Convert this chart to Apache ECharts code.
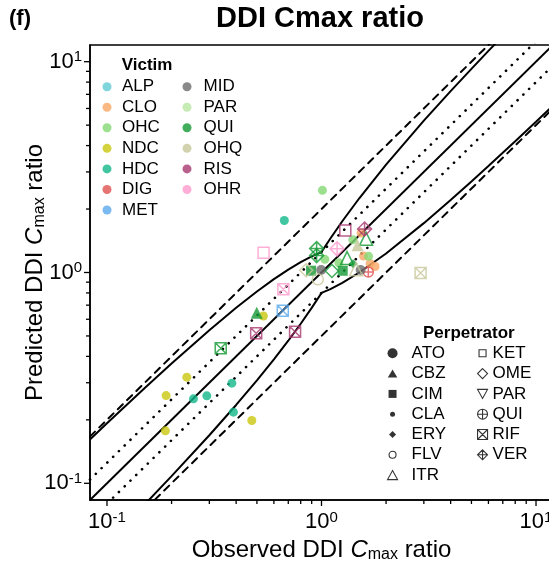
<!doctype html>
<html>
<head>
<meta charset="utf-8">
<title>DDI Cmax ratio</title>
<script src="https://cdn.jsdelivr.net/npm/echarts@6/dist/echarts.min.js"></script>
<style>
	html, body { margin: 0; padding: 0; background: #fff; }
	#chart { width: 549px; height: 561px; }
</style>
</head>
<body>
<div id="chart"></div>
<script>
var FONT = '"Liberation Sans", Arial, sans-serif';

// both axes run from 1/12 to 12
var axisMin = 1 / 12, axisMax = 12;
var majorTicks = [0.1, 1, 10];
var minorTicks = [0.2, 0.3, 0.4, 0.5, 0.6, 0.7, 0.8, 0.9, 2, 3, 4, 5, 6, 7, 8, 9];

var victims = ['ALP', 'CLO', 'OHC', 'NDC', 'HDC', 'DIG', 'MET', 'MID', 'PAR', 'QUI', 'OHQ', 'RIS', 'OHR'];
var perpetrators = ['ATO', 'CBZ', 'CIM', 'CLA', 'ERY', 'FLV', 'ITR', 'KET', 'OME', 'PAR', 'QUI', 'RIF', 'VER'];

// [observed, predicted, perpetrator]
var ALP = [];
var CLO = [[1.53, 1.54, 'CLA'], [1.571, 1.197, 'CLA'], [1.685, 1.103, 'CLA'], [1.778, 1.068, 'CLA']];
var OHC = [[1.01, 2.453, 'CLA'], [1.40, 1.43, 'CLA'], [1.037, 1.155, 'CLA'], [1.658, 1.193, 'CLA'], [1.205, 1.113, 'CLA']];
var NDC = [[0.536, 0.622, 'CLA'], [0.2355, 0.3187, 'CLA'], [0.1886, 0.2607, 'CLA'], [0.1872, 0.1774, 'CLA'], [0.4733, 0.1985, 'CLA']];
var HDC = [[0.382, 0.2985, 'CLA'], [0.253, 0.2515, 'CLA'], [0.292, 0.260, 'CLA'], [0.3885, 0.2175, 'CLA'], [0.671, 1.764, 'CLA']];
var DIG = [[1.653, 1.005, 'QUI']];
var MET = [[0.660, 0.659, 'RIF']];
var MID = [[0.996, 1.028, 'ATO'], [1.522, 1.028, 'ATO']];
var PAR = [];
var QUI = [[0.499, 0.645, 'CBZ'], [0.339, 0.437, 'RIF'], [0.949, 1.298, 'VER'], [0.949, 1.203, 'VER'],
	[1.614, 1.445, 'ITR'], [1.316, 1.171, 'ITR'], [1.404, 1.099, 'ERY'], [0.894, 1.02, 'CIM'],
	[1.118, 1.016, 'OME'], [1.256, 1.019, 'CIM']];
var OHQ = [[1.473, 1.347, 'CBZ'], [0.848, 1.025, 'OME'], [1.45, 1.036, 'ITR'], [0.961, 0.928, 'FLV'], [2.897, 0.995, 'RIF']];
var RIS = [[0.496, 0.515, 'RIF'], [0.753, 0.524, 'RIF'], [1.291, 1.58, 'KET'], [1.588, 1.608, 'VER']];
var OHR = [[0.664, 0.832, 'RIF'], [0.537, 1.241, 'KET'], [1.182, 1.295, 'VER']];

// reference lines
var unityLine = [[1 / 12, 1 / 12], [12, 12]];
var fold125Up = [[1 / 12, 0.1042], [12, 15]];
var fold125Down = [[1 / 12, 0.0667], [12, 9.6]];
var fold2Up = [[1 / 12, 0.1667], [12, 24]];
var fold2Down = [[1 / 12, 0.0417], [12, 6]];
// Guest limits (delta = 1.25)
var guestObs = [0.0833, 0.1, 0.15, 0.2, 0.3, 0.4, 0.5, 0.6, 0.7, 0.8, 0.9, 1, 1.1, 1.25, 1.5, 2, 3, 4, 5, 6, 8, 10, 12];
var guestUpper = [0.1614, 0.1925, 0.2831, 0.37, 0.5325, 0.68, 0.8125, 0.93, 1.0325, 1.12, 1.1925, 1.25, 1.45, 1.75, 2.25, 3.25, 5.25, 7.25, 9.25, 11.25, 15.25, 19.25, 23.25];
var guestLower = [0.043, 0.05195, 0.07947, 0.1081, 0.169, 0.2353, 0.3077, 0.3871, 0.4746, 0.5714, 0.6792, 0.8, 0.8345, 0.8929, 1.0, 1.2308, 1.7143, 2.2069, 2.7027, 3.2, 4.1967, 5.1948, 6.1935];

var victimData = { ALP: ALP, CLO: CLO, OHC: OHC, NDC: NDC, HDC: HDC, DIG: DIG, MET: MET, MID: MID, PAR: PAR, QUI: QUI, OHQ: OHQ, RIS: RIS, OHR: OHR };
var victimColors = {
	ALP: '#5ecbd3', CLO: '#f9a765', OHC: '#83d873', NDC: '#c9c70e', HDC: '#12b88a', DIG: '#e0514f', MET: '#5aa8ee',
	MID: '#6b6b6b', PAR: '#b9e6a3', QUI: '#139a35', OHQ: '#c8c79b', RIS: '#a8386f', OHR: '#ff9bcd'
};

// shapes
var circPlus = 'path://M0,10A10,10,0,1,1,20,10A10,10,0,1,1,0,10Z M10,0L10,20 M0,10L20,10';
var boxX = 'path://M0,0L20,0L20,20L0,20Z M0,0L20,20 M20,0L0,20';
var diaPlus = 'path://M10,0L20,10L10,20L0,10Z M10,0L10,20 M0,10L20,10';
var invTri = 'path://M0,0L20,0L10,18Z';
var shapeOf = {
	ATO: { symbol: 'circle', size: 10, open: false },
	CBZ: { symbol: 'triangle', size: 12, open: false },
	CIM: { symbol: 'rect', size: 10, open: false },
	CLA: { symbol: 'circle', size: 9, open: false },
	ERY: { symbol: 'diamond', size: 9, open: false },
	FLV: { symbol: 'circle', size: 11, open: true },
	ITR: { symbol: 'triangle', size: 13, open: true },
	KET: { symbol: 'rect', size: 11, open: true },
	OME: { symbol: 'diamond', size: 13, open: true },
	PAR: { symbol: invTri, size: 12, open: true },
	QUI: { symbol: circPlus, size: 10, open: true },
	RIF: { symbol: boxX, size: 11, open: true },
	VER: { symbol: diaPlus, size: 14, open: true }
};
// legend icons, padded inside a 20x20 box so they keep their proportions
var legendIcon = {
	ATO: 'circle',
	CBZ: 'path://M0,0M20,20M10,2L19.5,18L0.5,18Z',
	CIM: 'path://M0,0M20,20M2,2L18,2L18,18L2,18Z',
	CLA: 'path://M0,0M20,20M5,10A5,5,0,1,1,15,10A5,5,0,1,1,5,10Z',
	ERY: 'path://M0,0M20,20M10,3L17,10L10,17L3,10Z',
	FLV: 'path://M0,0M20,20M3,10A7,7,0,1,1,17,10A7,7,0,1,1,3,10Z',
	ITR: 'path://M0,0M20,20M10,1L20,19L0,19Z',
	KET: 'path://M0,0M20,20M3,3L17,3L17,17L3,17Z',
	OME: 'path://M10,0L20,10L10,20L0,10Z',
	PAR: invTri, QUI: circPlus, RIF: boxX, VER: diaPlus
};

function powerLabel(value) {
	var e = Math.round(Math.log(value) / Math.LN10);
	if (Math.abs(value - Math.pow(10, e)) > 1e-6 * value) return '';
	return '{b|10}{s|' + e + '}';
}
var labelRich = {
	b: { fontSize: 22, fontFamily: FONT, color: '#000' },
	s: { fontSize: 15, fontFamily: FONT, color: '#000', padding: [0, 0, 9, 0] }
};
var nameRich = {
	n: { fontSize: 24, fontFamily: FONT, color: '#000' },
	i: { fontSize: 24, fontFamily: FONT, color: '#000', fontStyle: 'italic' },
	sub: { fontSize: 16, fontFamily: FONT, color: '#000', padding: [10, 0, 0, 0] }
};

function tickSeries(values, onX, len) {
	return {
		type: 'custom', silent: true, clip: false, z: 6,
		data: values.map(function (v) { return onX ? [v, 1] : [1, v]; }),
		renderItem: function (params, api) {
			var p = onX ? api.coord([api.value(0), axisMin]) : api.coord([axisMin, api.value(1)]);
			return {
				type: 'line',
				shape: onX ? { x1: p[0], y1: p[1], x2: p[0], y2: p[1] + len } : { x1: p[0], y1: p[1], x2: p[0] - len, y2: p[1] },
				style: { stroke: '#000', lineWidth: 1.3 }
			};
		}
	};
}

function refLine(data, type, width) {
	return {
		type: 'line', silent: true, z: 2, symbol: 'none', showSymbol: false, data: data,
		lineStyle: { color: '#000', width: width, type: type, cap: type === 'solid' ? 'butt' : 'round' }
	};
}

var series = [];
series.push(refLine(fold2Up, [7, 6], 2));
series.push(refLine(fold2Down, [7, 6], 2));
series.push(refLine(fold125Up, [0.1, 8], 2.6));
series.push(refLine(fold125Down, [0.1, 8], 2.6));
series.push(refLine(unityLine, 'solid', 2));
series.push(refLine(guestObs.map(function (r, i) { return [r, guestUpper[i]]; }), 'solid', 2));
series.push(refLine(guestObs.map(function (r, i) { return [r, guestLower[i]]; }), 'solid', 2));

victims.forEach(function (v) {
	series.push({
		type: 'scatter', name: v, z: 4, silent: true, symbol: 'circle',
		itemStyle: { color: victimColors[v] },
		data: victimData[v].map(function (d) {
			var s = shapeOf[d[2]];
			var item = { value: [d[0], d[1]], symbol: s.symbol, symbolSize: s.size };
			if (s.open) item.itemStyle = { color: 'rgba(255,255,255,0)', borderColor: victimColors[v], borderWidth: 1.5 };
			return item;
		})
	});
});
perpetrators.forEach(function (p) {
	var s = shapeOf[p];
	series.push({
		type: 'scatter', name: 'p_' + p, data: [], symbol: s.symbol,
		itemStyle: s.open ? { color: 'rgba(255,255,255,0)', borderColor: '#000', borderWidth: 1.2 } : { color: '#000' }
	});
});
series.push(tickSeries(majorTicks, true, 6));
series.push(tickSeries(minorTicks, true, 4));
series.push(tickSeries(majorTicks, false, 6));
series.push(tickSeries(minorTicks, false, 4));

function victimLegend(names, left, iw) {
	return {
		left: left, top: 78.2, orient: 'vertical', padding: 0, itemGap: 3.55,
		itemWidth: iw, itemHeight: 9, selectedMode: false, icon: 'circle',
		textStyle: { fontSize: 17, fontFamily: FONT, color: '#000', lineHeight: 17 },
		data: names
	};
}
function perpLegend(names, left, iw) {
	return {
		left: left, top: 344.8, orient: 'vertical', padding: 0, itemGap: 3.3,
		itemWidth: iw, itemHeight: 10, selectedMode: false,
		textStyle: { fontSize: 17, fontFamily: FONT, color: '#000', lineHeight: 17 },
		formatter: function (n) { return n.replace('p_', ''); },
		data: names.map(function (p) {
			var s = shapeOf[p];
			return {
				name: 'p_' + p, icon: legendIcon[p],
				itemStyle: s.open ? { color: 'rgba(255,255,255,0)', borderColor: '#000', borderWidth: 1.1 } : { color: '#000', borderWidth: 0 }
			};
		})
	};
}

var chart = echarts.init(document.getElementById('chart'), null, { renderer: 'canvas' });
chart.setOption({
	animation: false,
	backgroundColor: '#fff',
	grid: {
		left: 90, top: 45, right: -4, bottom: 61, show: true, borderColor: '#000', borderWidth: 1.5,
		containLabel: false, outerBoundsMode: 'none'
	},
	xAxis: {
		type: 'log', logBase: 10, min: axisMin, max: axisMax,
		axisLine: { show: true, lineStyle: { color: '#000', width: 1.5 } },
		axisTick: { show: false }, splitLine: { show: false },
		axisLabel: { formatter: powerLabel, margin: 10, showMinLabel: false, showMaxLabel: false, rich: labelRich },
		name: '{n|Observed DDI }{i|C}{sub|max}{n| ratio}',
		nameLocation: 'middle', nameGap: 37, nameMoveOverlap: false,
		nameTextStyle: { fontSize: 24, fontFamily: FONT, color: '#000', rich: nameRich }
	},
	yAxis: {
		type: 'log', logBase: 10, min: axisMin, max: axisMax,
		axisLine: { show: true, lineStyle: { color: '#000', width: 1.5 } },
		axisTick: { show: false }, splitLine: { show: false },
		axisLabel: { formatter: powerLabel, margin: 8, showMinLabel: false, showMaxLabel: false, rich: labelRich },
		name: '{n|Predicted DDI }{i|C}{sub|max}{n| ratio}',
		nameLocation: 'middle', nameGap: 42, nameMoveOverlap: false,
		nameTextStyle: { fontSize: 24, fontFamily: FONT, color: '#000', rich: nameRich }
	},
	legend: [
		victimLegend(['ALP', 'CLO', 'OHC', 'NDC', 'HDC', 'DIG', 'MET'], 102.5, 20),
		victimLegend(['MID', 'PAR', 'QUI', 'OHQ', 'RIS', 'OHR'], 182.5, 23),
		perpLegend(['ATO', 'CBZ', 'CIM', 'CLA', 'ERY', 'FLV', 'ITR'], 387, 28),
		perpLegend(['KET', 'OME', 'PAR', 'QUI', 'RIF', 'VER'], 477, 10)
	],
	graphic: [
		{ type: 'text', x: 9, y: 19, style: { text: '(f)', font: 'bold 22px ' + FONT, fill: '#000', verticalAlign: 'middle' } },
		{ type: 'text', x: 320, y: 19, style: { text: 'DDI Cmax ratio', font: 'bold 29px ' + FONT, fill: '#000', align: 'center', verticalAlign: 'middle' } },
		{ type: 'text', x: 121.7, y: 65, style: { text: 'Victim', font: 'bold 17px ' + FONT, fill: '#000', verticalAlign: 'middle' } },
		{ type: 'text', x: 423, y: 333, style: { text: 'Perpetrator', font: 'bold 17px ' + FONT, fill: '#000', verticalAlign: 'middle' } }
	],
	series: series
});
</script>
</body>
</html>
